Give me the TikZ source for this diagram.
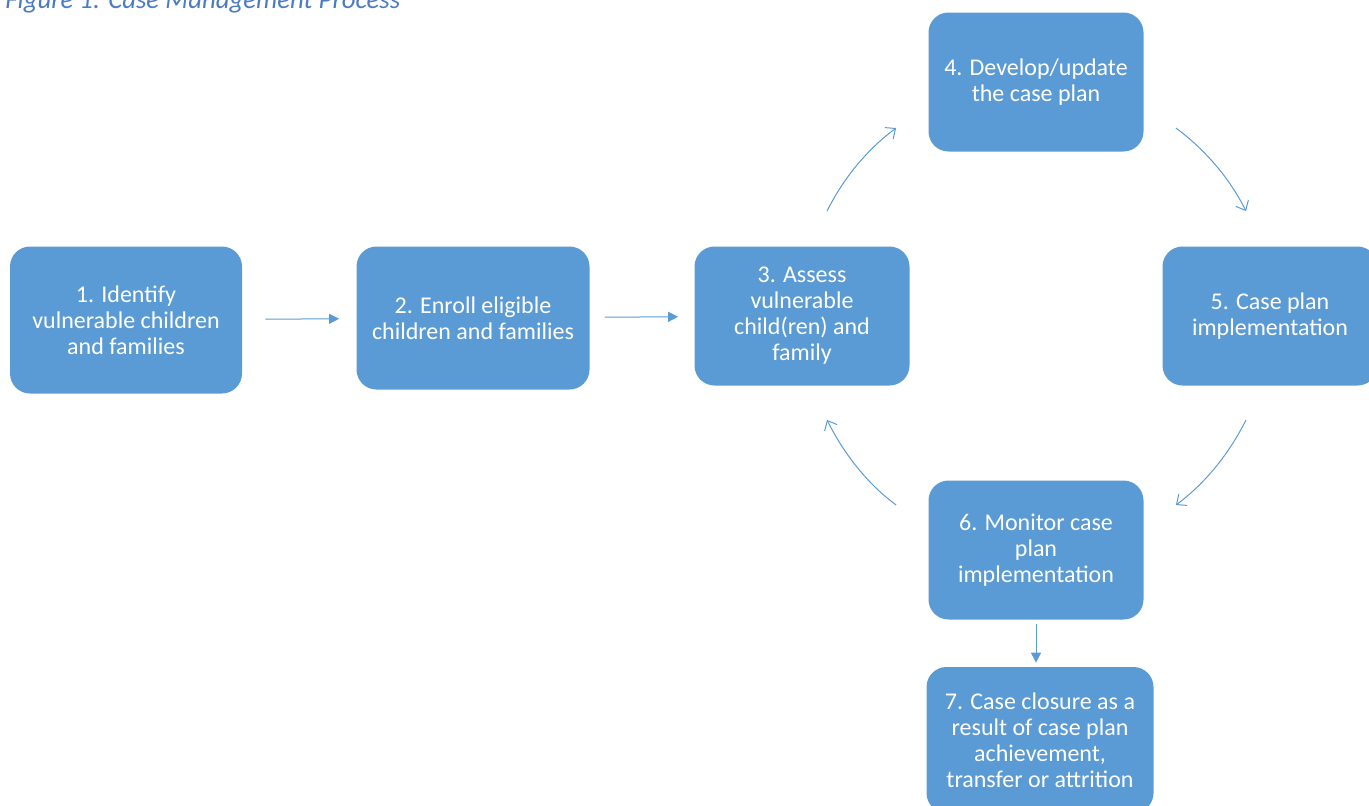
\documentclass[tikz,border=0pt]{standalone}
\usepackage{fontspec}
\setmainfont{Carlito}
\usetikzlibrary{arrows.meta}
\definecolor{boxblue}{HTML}{5B9BD5}
\definecolor{capblue}{HTML}{4A7BC4}

\begin{document}
\begin{tikzpicture}[x=0.5pt, y=-0.5pt, font=\fontsize{12}{13}\selectfont,
  box/.style={fill=boxblue, text=white, rounded corners=10pt, align=center, inner sep=0pt},
  link/.style={boxblue, line width=0.5pt, -{Triangle[length=5pt,width=5pt]}},
  cyc/.style={boxblue, line width=0.5pt, -{Straight Barb[length=4pt,width=7pt]}, looseness=0.86}]

\useasboundingbox (0,0) rectangle (1369,805);

% caption, cut at the top
\node[anchor=base west, inner sep=0pt, text=capblue, font=\fontsize{13.4}{15}\itshape] (title) at (5,8) {Figure 1: Case Management Process};

% boxes
\node[box, minimum width=116pt, minimum height=73.5pt] (n1) at (126,320) {1. Identify\\vulnerable children\\and families};
\node[box, minimum width=116.5pt, minimum height=71.5pt] (n2) at (473,318) {2. Enroll eligible\\children and families};
\node[box, minimum width=107.5pt, minimum height=69.5pt] (n3) at (802,316) {3. Assess\\vulnerable\\child(ren) and\\family};
\node[box, minimum width=107.5pt, minimum height=69.5pt] (n4) at (1036,82) {4. Develop/update\\the case plan};
\node[box, minimum width=107.5pt, minimum height=69.5pt] (n5) at (1270,316) {5. Case plan\\implementation};
\node[box, minimum width=107.5pt, minimum height=69.5pt] (n6) at (1036,550) {6. Monitor case\\plan\\implementation};
\node[box, minimum width=113.5pt, minimum height=73pt] (n7) at (1040,740) {7. Case closure as a\\result of case plan\\achievement,\\transfer or attrition};

% straight links
\draw[link, shorten <=11.5pt, shorten >=8.5pt] (n1) -- (n2);
\draw[link, shorten <=7.5pt, shorten >=8pt] (n2) -- (n3);
\draw[link, shorten <=2pt, shorten >=2pt] (n6.south) -- (n6.south |- n7.north);

% the cycle
\draw[cyc] ([shift={(25,-35)}]n3.north) to[out=63.5, in=216.5] ([shift={(-32,46)}]n4.west);
\draw[cyc] ([shift={(32,46)}]n4.east) to[out=-36.5, in=116.5] ([shift={(-24,-35)}]n5.north);
\draw[cyc] ([shift={(-24,34)}]n5.south) to[out=-116.5, in=36.5] ([shift={(32,-45)}]n6.east);
\draw[cyc] ([shift={(-32,-45)}]n6.west) to[out=143.5, in=-63.5] ([shift={(25,34)}]n3.south);

\end{tikzpicture}
\end{document}
